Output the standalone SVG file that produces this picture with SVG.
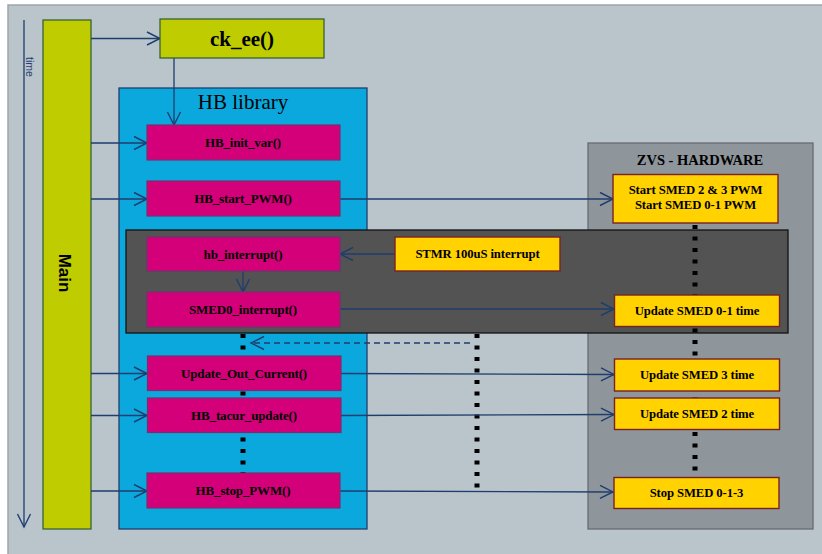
<svg xmlns="http://www.w3.org/2000/svg" width="822" height="554" viewBox="0 0 822 554">
  <defs>
    <marker id="chev" markerUnits="userSpaceOnUse" markerWidth="16" markerHeight="16" viewBox="0 0 16 16" refX="14" refY="8" orient="auto">
      <path d="M1,1.5 L14,8 L1,14.5" fill="none" stroke="#1f3d6e" stroke-width="1.4"/>
    </marker>
    <style>
      .wire { fill: none; stroke: #1f3d6e; stroke-width: 1.3; marker-end: url(#chev); }
      .dash { stroke-dasharray: 6 4; }
      .dots { fill: none; stroke: #000; stroke-width: 5; stroke-dasharray: 4 7.5; }
      .lime { fill: #bfcc00; stroke: #2e5a30; stroke-width: 1.2; }
      .fn { fill: #d4007a; stroke: #7a2d6e; stroke-width: 1.2; }
      .hw { fill: #ffd200; stroke: #7a2222; stroke-width: 1.4; }
      .serif { font-family: "Liberation Serif", "Times New Roman", serif; font-weight: bold; fill: #000; text-anchor: middle; }
      .fnt { font-size: 13px; letter-spacing: -0.15px; }
      .hwt { font-size: 12.7px; letter-spacing: -0.1px; }
    </style>
  </defs>

  <!-- backdrop -->
  <rect x="0" y="0" width="822" height="554" fill="#ffffff"/>
  <rect x="8" y="5" width="830" height="560" fill="#b9c4cb" stroke="#9ea5ab" stroke-width="1.5"/>

  <!-- time axis -->
  <g id="time-axis">
    <line x1="24" y1="20" x2="24" y2="527" stroke="#1f3d6e" stroke-width="1.3" marker-end="url(#chev)"/>
    <text x="0" y="0" transform="translate(26,67) rotate(90)" font-family="Liberation Sans, Arial, sans-serif" font-size="10.5" fill="#1f3d6e" text-anchor="middle">time</text>
  </g>

  <!-- containers -->
  <g id="main">
    <rect class="lime" x="43" y="20" width="48" height="509"/>
    <text x="0" y="0" transform="translate(59,273) rotate(90)" font-family="Liberation Sans, Arial, sans-serif" font-size="17" font-weight="bold" fill="#000" text-anchor="middle">Main</text>
  </g>

  <g id="hb-library">
    <rect x="119" y="88" width="248" height="441" fill="#0aa8dc" stroke="#1f3f6e" stroke-width="1.3"/>
    <text x="243" y="109" font-family="Liberation Serif, 'Times New Roman', serif" font-size="21" fill="#000" text-anchor="middle">HB library</text>
  </g>

  <g id="zvs-hardware">
    <rect x="588" y="143" width="225" height="386" fill="#8e959b" stroke="#686c70" stroke-width="1.3"/>
    <text class="serif" x="700" y="165" font-size="14.5">ZVS - HARDWARE</text>
  </g>

  <g id="interrupt-context">
    <rect x="126" y="230" width="662" height="103" fill="#525352" stroke="#111" stroke-width="1.3"/>
  </g>

  <!-- lifelines -->
  <g id="lifelines">
    <line class="dots" x1="695" y1="225" x2="695" y2="477"/>
    <line class="dots" x1="243" y1="334" x2="243" y2="473"/>
    <line class="dots" x1="477" y1="334" x2="477" y2="488"/>
  </g>

  <!-- connectors -->
  <g id="connectors">
    <line class="wire" x1="91" y1="38.5" x2="160" y2="38.5"/>
    <line class="wire" x1="174" y1="58" x2="174" y2="125"/>
    <line class="wire" x1="91" y1="143" x2="147" y2="143"/>
    <line class="wire" x1="91" y1="199" x2="147" y2="199"/>
    <line class="wire" x1="340" y1="199" x2="613" y2="199"/>
    <line class="wire" x1="395" y1="254" x2="340" y2="254"/>
    <line class="wire" x1="243" y1="271" x2="243" y2="292"/>
    <line class="wire" x1="340" y1="309" x2="614" y2="309"/>
    <line class="wire dash" x1="470" y1="343" x2="251" y2="343"/>
    <line class="wire" x1="91" y1="373.5" x2="147" y2="373.5"/>
    <line class="wire" x1="341" y1="373.5" x2="614" y2="374.5"/>
    <line class="wire" x1="91" y1="415.5" x2="147" y2="415.5"/>
    <line class="wire" x1="341" y1="415.5" x2="614" y2="414.5"/>
    <line class="wire" x1="91" y1="491" x2="147" y2="491"/>
    <line class="wire" x1="340" y1="491" x2="613" y2="492"/>
  </g>

  <!-- software nodes -->
  <g id="ck-ee">
    <rect class="lime" x="160" y="19" width="164" height="39"/>
    <text class="serif" x="242" y="46" font-size="21">ck_ee()</text>
  </g>
  <g id="hb-init-var">
    <rect class="fn" x="147" y="125" width="193" height="35"/>
    <text class="serif fnt" x="243" y="147">HB_init_var()</text>
  </g>
  <g id="hb-start-pwm">
    <rect class="fn" x="147" y="181" width="193" height="35"/>
    <text class="serif fnt" x="243" y="203">HB_start_PWM()</text>
  </g>
  <g id="hb-interrupt">
    <rect class="fn" x="147" y="237" width="193" height="34"/>
    <text class="serif fnt" x="243" y="258.5">hb_interrupt()</text>
  </g>
  <g id="smed0-interrupt">
    <rect class="fn" x="147" y="292" width="193" height="35"/>
    <text class="serif fnt" x="243" y="313.5">SMED0_interrupt()</text>
  </g>
  <g id="update-out-current">
    <rect class="fn" x="147.5" y="356" width="193.5" height="34.5"/>
    <text class="serif fnt" x="244" y="377.5">Update_Out_Current()</text>
  </g>
  <g id="hb-tacur-update">
    <rect class="fn" x="147.5" y="398" width="193.5" height="34.5"/>
    <text class="serif fnt" x="244" y="419.5">HB_tacur_update()</text>
  </g>
  <g id="hb-stop-pwm">
    <rect class="fn" x="147" y="473" width="193" height="35"/>
    <text class="serif fnt" x="243" y="495">HB_stop_PWM()</text>
  </g>

  <!-- hardware nodes -->
  <g id="stmr-interrupt">
    <rect class="hw" x="395" y="237" width="165" height="34"/>
    <text class="serif hwt" x="477.5" y="258">STMR 100uS interrupt</text>
  </g>
  <g id="start-smed">
    <rect class="hw" x="613" y="174.5" width="165" height="48.5"/>
    <text class="serif hwt" x="695.5" y="194">Start SMED 2 &amp; 3 PWM</text>
    <text class="serif hwt" x="695.5" y="209">Start SMED 0-1 PWM</text>
  </g>
  <g id="update-smed-01">
    <rect class="hw" x="614.5" y="295" width="165" height="31.5"/>
    <text class="serif hwt" x="697" y="315">Update SMED 0-1 time</text>
  </g>
  <g id="update-smed-3">
    <rect class="hw" x="614.5" y="359" width="165" height="32"/>
    <text class="serif hwt" x="697" y="379">Update SMED 3 time</text>
  </g>
  <g id="update-smed-2">
    <rect class="hw" x="614.5" y="398" width="165" height="31.5"/>
    <text class="serif hwt" x="697" y="418">Update SMED 2 time</text>
  </g>
  <g id="stop-smed">
    <rect class="hw" x="614" y="477.5" width="165" height="31"/>
    <text class="serif hwt" x="696.5" y="497">Stop SMED 0-1-3</text>
  </g>
</svg>
